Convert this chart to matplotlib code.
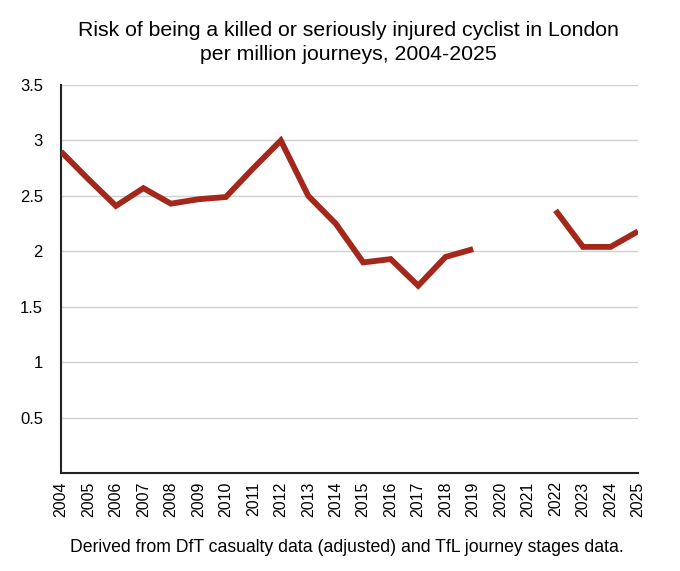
import matplotlib
matplotlib.use("Agg")
import matplotlib.pyplot as plt
import numpy as np

years = list(range(2004, 2026))
risk = [2.90, 2.65, 2.41, 2.57, 2.43, 2.47, 2.49, 2.75, 3.00, 2.50, 2.25, 1.90,
        1.93, 1.69, 1.95, 2.02, np.nan, np.nan, 2.37, 2.04, 2.04, 2.18]
yticks = [0.5, 1, 1.5, 2, 2.5, 3, 3.5]
ytick_labels = ["0.5", "1", "1.5", "2", "2.5", "3", "3.5"]

plt.rcParams['font.family'] = ['Liberation Sans', 'DejaVu Sans']

fig = plt.figure(figsize=(6.8, 5.71), dpi=100)
ax = fig.add_axes([0.0897, 0.1716, 0.8485, 0.6794])

ax.plot(years, risk, color='#A3281B', linewidth=4.2, solid_joinstyle='miter', solid_capstyle='butt', zorder=3)

ax.set_xlim(2004, 2025)
ax.set_ylim(0, 3.5)
ax.set_yticks(yticks)
ax.set_yticklabels(ytick_labels, fontsize=12)
ax.set_xticks(years)
ax.set_xticklabels([str(y) for y in years], rotation=90, fontsize=11.5)
ax.tick_params(axis='both', length=0)
ax.tick_params(axis='y', pad=13)
ax.tick_params(axis='x', pad=6)
ax.grid(axis='y', color='#d0d0d0', linewidth=1)
ax.set_axisbelow(True)
for s in ['top', 'right']:
    ax.spines[s].set_visible(False)
for s in ['left', 'bottom']:
    ax.spines[s].set_color('#222222')
    ax.spines[s].set_linewidth(1.5)

fig.text(0.513, 0.926, "Risk of being a killed or seriously injured cyclist in London\nper million journeys, 2004-2025",
         ha='center', va='center', fontsize=15.3, linespacing=1.3)
fig.text(0.51, 0.042, "Derived from DfT casualty data (adjusted) and TfL journey stages data.",
         ha='center', va='center', fontsize=12.7)

fig.savefig("out.png", dpi=100)
